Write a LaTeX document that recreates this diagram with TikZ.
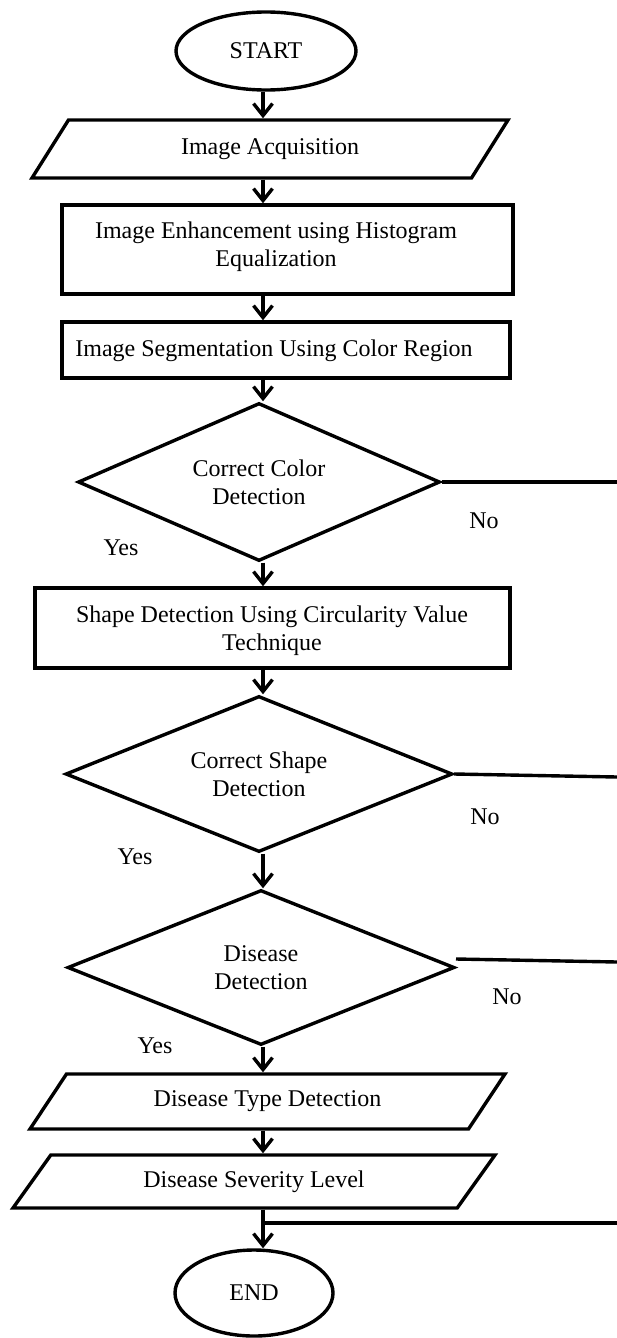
\documentclass[tikz,border=0pt]{standalone}
\usepackage{fontspec}
\setmainfont{Liberation Serif}
\usetikzlibrary{shapes.geometric,arrows.meta}

\tikzset{
  flow/.style={draw, line width=3.4pt, inner sep=0pt, align=center},
  term/.style={flow, ellipse},
  box/.style={flow, rectangle},
  io/.style={flow, trapezium, trapezium stretches body,
    trapezium left angle=30, trapezium right angle=150},
  test/.style={flow, diamond, aspect=2.4},
  plain/.style={inner sep=0pt, align=center},
  arr/.style={line width=3.4pt, -{Straight Barb[length=12pt,width=19pt]}},
  wire/.style={line width=3.4pt},
}

\begin{document}
\begin{tikzpicture}[x=1pt,y=-1pt,font=\fontsize{24}{28}\selectfont]
    \useasboundingbox (0,0) rectangle (617,1338);
    \coordinate (spine) at (263,0);
    \coordinate (rim) at (617,0);

    % the flow, top to bottom
    \node[term, minimum width=180pt, minimum height=78pt] (start) at (266,51) {START};
    \node[io, minimum width=476pt, minimum height=58pt] (acq) at (270,149) {Image Acquisition};
    \node[box, minimum width=451pt, minimum height=89pt] (enh) at (287.5,249.5) {};
    \node[plain] (enhtxt) at (276,247) {Image Enhancement using Histogram\\Equalization};
    \node[box, minimum width=448pt, minimum height=56pt] (seg) at (286,350) {};
    \node[plain] (segtxt) at (274,351) {Image Segmentation Using Color Region};
    \node[test, minimum width=362pt, minimum height=158pt] (color) at (259,482) {Correct Color\\Detection};
    \node[box, minimum width=475pt, minimum height=80pt] (shape) at (272.5,628) {};
    \node[plain] (shapetxt) at (272,631) {Shape Detection Using Circularity Value\\Technique};
    \node[test, minimum width=387pt, minimum height=156pt] (form) at (259,774) {Correct Shape\\Detection};
    \node[test, minimum width=387pt, minimum height=155pt] (dis) at (261,967.5) {Disease\\Detection};
    \node[io, minimum width=475pt, minimum height=55pt] (type) at (267.5,1101.5) {Disease Type Detection};
    \node[io, minimum width=482pt, minimum height=53pt] (sev) at (254,1181.5) {Disease Severity Level};
    \node[term, minimum width=158pt, minimum height=86pt] (end) at (254,1293) {END};

    % arrows down the spine
    \draw[arr] (start.south -| spine) -- (acq.north -| spine);
    \draw[arr] (acq.south -| spine) -- (enh.north -| spine);
    \draw[arr] (enh.south -| spine) -- (seg.north -| spine);
    \draw[arr] (seg.south -| spine) -- (color.north -| spine);
    \draw[arr] (color.south -| spine) -- (shape.north -| spine);
    \draw[arr] (shape.south -| spine) -- (form.north -| spine);
    \draw[arr] (form.south -| spine) -- (dis.north -| spine);
    \draw[arr] (dis.south -| spine) -- (type.north -| spine);
    \draw[arr] (type.south -| spine) -- (sev.north -| spine);
    \draw[arr] (sev.south -| spine) -- (end.north -| spine);

    % the No branches
    \coordinate (formout) at (617,777);
    \coordinate (disin) at (456,959);
    \coordinate (disout) at (617,962);
    \coordinate (back) at (617,1223);
    \draw[wire] (color.east) -- (color.east -| rim);
    \draw[wire] (form.east) -- (formout);
    \draw[wire] (disin) -- (disout);
    \draw[wire] (back) -- (back -| spine);

    \node[plain] (no1) at (484,521) {No};
    \node[plain] (no2) at (485,817) {No};
    \node[plain] (no3) at (507,997) {No};
    \node[plain] (yes1) at (121,548) {Yes};
    \node[plain] (yes2) at (135,857) {Yes};
    \node[plain] (yes3) at (155,1046) {Yes};
\end{tikzpicture}
\end{document}
